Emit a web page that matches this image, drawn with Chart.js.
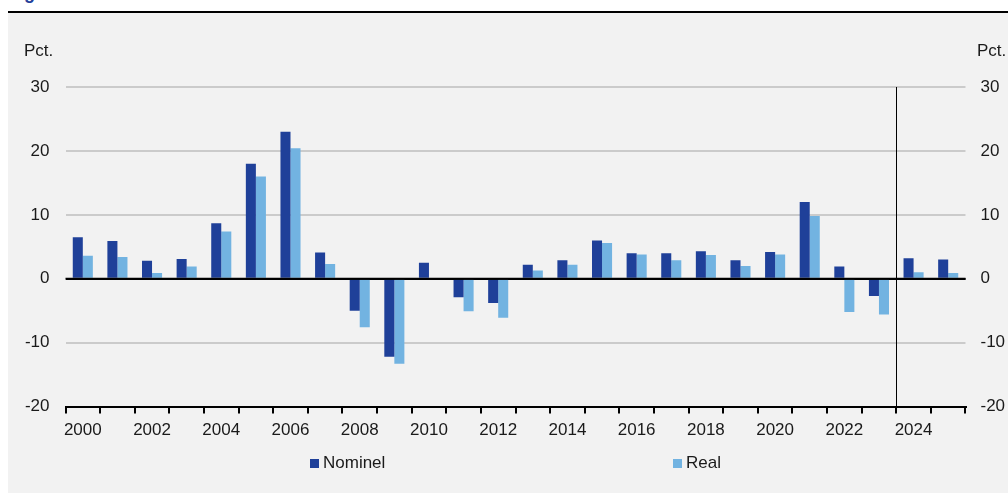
<!DOCTYPE html>
<html>
<head>
<meta charset="utf-8">
<script src="https://cdn.jsdelivr.net/npm/chart.js@4.4.0/dist/chart.umd.min.js"></script>
<style>
  html, body { margin: 0; padding: 0; background: #fff; }
  body { width: 1008px; height: 494px; position: relative; overflow: hidden; font-family: "Liberation Sans", Arial, sans-serif; color: #1a1a1a; }
  #title { position: absolute; left: 8px; top: -16px; font-size: 18px; line-height: 18px; font-weight: bold; color: #1f4099; white-space: nowrap; }
  #rule { position: absolute; left: 8px; right: 0; top: 11px; height: 2px; background: #000; }
  #panel { position: absolute; left: 8px; right: 0; top: 13px; bottom: 1px; background: #f2f2f2; }
  #chart { position: absolute; left: 0; top: 0; }
  .unit { position: absolute; top: 41.6px; font-size: 17px; line-height: 17px; }
  .leg { position: absolute; top: 454px; font-size: 17px; line-height: 17px; white-space: nowrap; }
  .leg i { display: inline-block; width: 9px; height: 9px; margin-right: 4px; vertical-align: 0px; }
</style>
</head>
<body>
<div id="title">Figur</div>
<div id="rule"></div>
<div id="panel"></div>
<canvas id="chart" width="1008" height="494"></canvas>
<div class="unit" style="left:24px">Pct.</div>
<div class="unit" style="left:977px">Pct.</div>
<div class="leg" id="leg0" style="left:310px"></div>
<div class="leg" id="leg1" style="left:673px"></div>
<script>
var years = ['2000', '2001', '2002', '2003', '2004', '2005', '2006', '2007', '2008', '2009',
             '2010', '2011', '2012', '2013', '2014', '2015', '2016', '2017', '2018', '2019',
             '2020', '2021', '2022', '2023', '2024', '2025'];
var nominel = [6.5, 5.9, 2.8, 3.1, 8.7, 18.0, 23.0, 4.1, -5.0, -12.2,
               2.5, -2.9, -3.8, 2.2, 2.9, 6.0, 4.0, 4.0, 4.3, 2.9,
               4.2, 12.0, 1.9, -2.7, 3.2, 3.0];
var real = [3.6, 3.4, 0.9, 1.9, 7.4, 16.0, 20.4, 2.3, -7.6, -13.3,
            0, -5.1, -6.1, 1.3, 2.2, 5.6, 3.8, 2.9, 3.7, 2.0,
            3.8, 9.8, -5.2, -5.6, 1.0, 0.9];
var seriesNames = ['Nominel', 'Real'];
var seriesColors = ['#1f4099', '#72b3e1'];
var yTicks = [30, 20, 10, 0, -10, -20];
var forecastFrom = '2024';

var fontSpec = { family: '"Liberation Sans", Arial, sans-serif', size: 17 };

// legend in html, spread out like the original
seriesNames.forEach(function (name, i) {
    var el = document.getElementById('leg' + i);
    el.innerHTML = '<i style="background:' + seriesColors[i] + '"></i>' + name;
});

var overlay = {
    id: 'overlay',
    afterDatasetsDraw: function (chart) {
        var ctx = chart.ctx;
        var area = chart.chartArea;
        var xs = chart.scales.x;
        var ys = chart.scales.y;
        var idx = years.indexOf(forecastFrom);
        var xLine = Math.round((xs.getPixelForValue(idx - 1) + xs.getPixelForValue(idx)) / 2) + 0.5;
        ctx.save();
        // zero line on top of the bars
        var y0 = ys.getPixelForValue(0);
        ctx.strokeStyle = '#000';
        ctx.lineWidth = 2;
        ctx.beginPath();
        ctx.moveTo(area.left, y0);
        ctx.lineTo(area.right, y0);
        ctx.stroke();
        // forecast separator
        ctx.lineWidth = 1;
        ctx.beginPath();
        ctx.moveTo(xLine, area.top);
        ctx.lineTo(xLine, area.bottom);
        ctx.stroke();
        ctx.restore();
    }
};

var ctx = document.getElementById('chart').getContext('2d');
var myChart = new Chart(ctx, {
    type: 'bar',
    data: {
        labels: years,
        datasets: [
            { label: seriesNames[0], data: nominel, backgroundColor: seriesColors[0], categoryPercentage: 0.58, barPercentage: 1.0 },
            { label: seriesNames[1], data: real, backgroundColor: seriesColors[1], categoryPercentage: 0.58, barPercentage: 1.0 }
        ]
    },
    options: {
        responsive: false,
        devicePixelRatio: 1,
        animation: false,
        layout: { padding: { top: 87, left: 24.5, right: 2.5, bottom: 46 } },
        plugins: {
            legend: { display: false },
            tooltip: { enabled: false }
        },
        scales: {
            x: {
                grid: { display: true, drawOnChartArea: false, drawTicks: true, tickLength: 7, color: '#000', lineWidth: 2 },
                border: { display: true, color: '#000', width: 2 },
                ticks: {
                    autoSkip: false,
                    maxRotation: 0,
                    padding: 7,
                    color: '#1a1a1a',
                    font: fontSpec,
                    callback: function (value, index) {
                        return index % 2 === 0 ? years[index] : '';
                    }
                }
            },
            y: {
                position: 'left',
                min: -20,
                max: 30,
                afterBuildTicks: function (axis) {
                    axis.ticks = yTicks.map(function (v) { return { value: v }; });
                },
                afterFit: function (axis) { axis.width = 41; },
                grid: {
                    drawTicks: false,
                    lineWidth: 2,
                    color: function (c) { return c.tick && c.tick.value === 0 ? '#000' : '#cbcbcb'; }
                },
                border: { display: false },
                ticks: { padding: 16, color: '#1a1a1a', font: fontSpec }
            },
            y2: {
                position: 'right',
                min: -20,
                max: 30,
                afterBuildTicks: function (axis) {
                    axis.ticks = yTicks.map(function (v) { return { value: v }; });
                },
                afterFit: function (axis) { axis.width = 40; },
                grid: { display: false, drawOnChartArea: false, drawTicks: false },
                border: { display: false },
                ticks: { padding: 15, color: '#1a1a1a', font: fontSpec }
            }
        }
    },
    plugins: [overlay]
});
</script>
</body>
</html>
